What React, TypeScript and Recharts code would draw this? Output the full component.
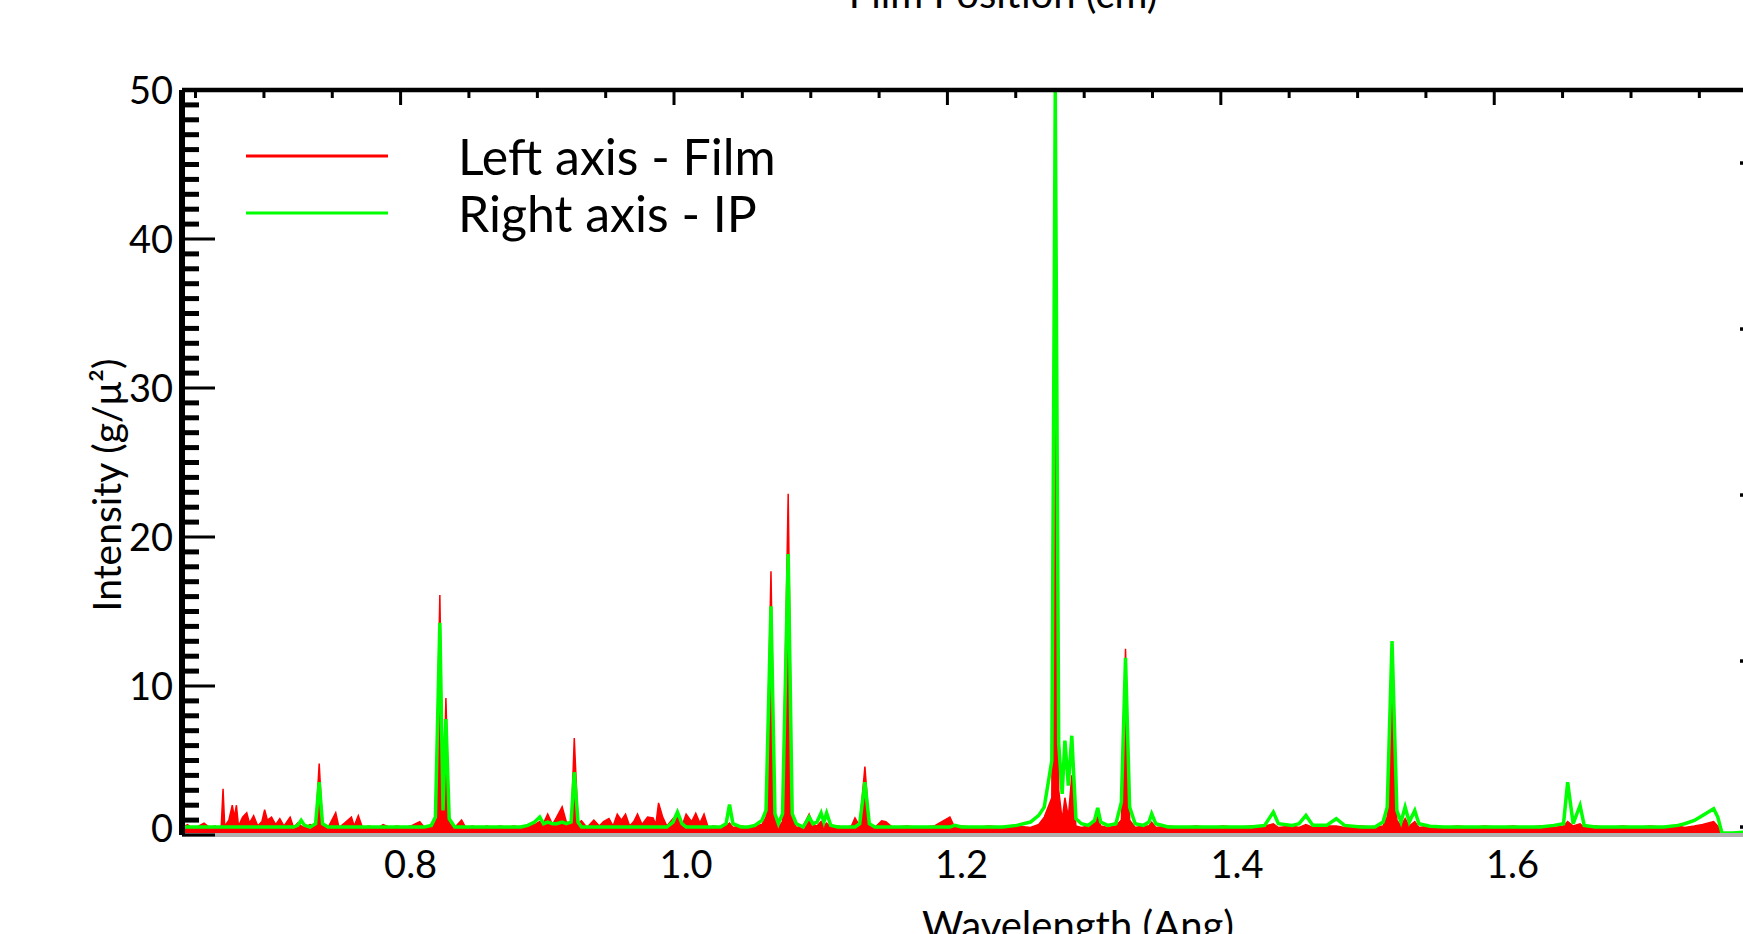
import React from 'react';
import { ComposedChart, Area, Line, XAxis, YAxis, Legend } from 'recharts';

// ---- data ----
const wavelength = [
  // 0.634 - 0.736
  0.634, 0.638, 0.642, 0.646, 0.650, 0.654, 0.658, 0.661, 0.6625, 0.6638,
  0.665, 0.668, 0.6705, 0.672, 0.6735, 0.675, 0.678, 0.681, 0.683, 0.686,
  0.689, 0.692, 0.694, 0.696, 0.699, 0.702, 0.705, 0.708, 0.7125, 0.715,
  0.718, 0.7205, 0.723, 0.727, 0.731, 0.7336, 0.736,
  // 0.740 - 0.840
  0.740, 0.7456, 0.748, 0.752, 0.757, 0.759, 0.762, 0.765, 0.770, 0.775,
  0.780, 0.785, 0.790, 0.795, 0.800, 0.8066, 0.810, 0.815, 0.818, 0.8212,
  0.8235, 0.8256, 0.828, 0.832, 0.837, 0.840,
  // 0.845 - 0.928
  0.845, 0.850, 0.855, 0.860, 0.865, 0.870, 0.875, 0.880, 0.885, 0.890,
  0.8937, 0.8965, 0.8995, 0.903, 0.906, 0.910, 0.913, 0.9165, 0.9188, 0.9215,
  0.924, 0.928,
  // 0.933 - 1.050
  0.933, 0.937, 0.940, 0.944, 0.947, 0.950, 0.953, 0.956, 0.959, 0.962,
  0.9647, 0.968, 0.972, 0.976, 0.978, 0.980, 0.983, 0.986, 0.9905, 0.9937,
  0.997, 1.000, 1.004, 1.007, 1.010, 1.013, 1.016, 1.020, 1.025, 1.029,
  1.0315, 1.034, 1.040, 1.045, 1.050,
  // 1.055 - 1.150
  1.055, 1.058, 1.0616, 1.0645, 1.067, 1.070, 1.0741, 1.077, 1.080, 1.085,
  1.0893, 1.092, 1.095, 1.098, 1.100, 1.102, 1.105, 1.110, 1.115, 1.120,
  1.1226, 1.126, 1.1298, 1.133, 1.137, 1.142, 1.145, 1.150,
  // 1.160 - 1.306
  1.160, 1.170, 1.180, 1.1915, 1.195, 1.200, 1.210, 1.220, 1.230, 1.240,
  1.250, 1.256, 1.260, 1.2655, 1.268, 1.2705, 1.273, 1.275, 1.2775, 1.280,
  1.283, 1.287, 1.292, 1.2965, 1.2988, 1.301, 1.306,
  // 1.312 - 1.500
  1.312, 1.316, 1.319, 1.322, 1.326, 1.332, 1.336, 1.338, 1.341, 1.350,
  1.360, 1.370, 1.380, 1.390, 1.400, 1.410, 1.420, 1.4263, 1.430, 1.440,
  1.445, 1.450, 1.455, 1.465, 1.472, 1.478, 1.490, 1.500,
  // 1.506 - 1.784
  1.506, 1.509, 1.5125, 1.516, 1.519, 1.522, 1.525, 1.529, 1.532, 1.540,
  1.550, 1.560, 1.570, 1.580, 1.590, 1.600, 1.610, 1.620, 1.630, 1.637,
  1.640, 1.644, 1.649, 1.652, 1.660, 1.670, 1.680, 1.690, 1.700, 1.710,
  1.720, 1.725, 1.732, 1.738, 1.746, 1.749, 1.752, 1.760, 1.770, 1.784,
];

// Left axis - Film, intensity (g/μ²)
const film = [
  0.5, 0.7, 0.4, 0.6, 0.8, 0.5, 0.6, 0.4, 0.6, 3.1,
  0.6, 1.0, 2.0, 1.2, 2.0, 0.6, 1.2, 1.5, 0.8, 1.3,
  0.6, 0.9, 1.7, 1.0, 1.2, 0.7, 1.1, 0.6, 1.2, 0.5,
  0.8, 0.6, 0.5, 0.7, 0.6, 4.8, 0.6,

  0.5, 1.5, 0.5, 0.8, 1.2, 0.6, 1.3, 0.5, 0.6, 0.4,
  0.7, 0.5, 0.6, 0.5, 0.6, 0.9, 0.5, 0.6, 0.9, 16.1,
  1.5, 9.2, 0.8, 0.5, 1.0, 0.5,

  0.6, 0.4, 0.6, 0.5, 0.6, 0.5, 0.6, 0.5, 0.6, 0.7,
  0.9, 0.8, 1.4, 0.7, 1.2, 1.9, 0.9, 0.6, 6.5, 0.8,
  0.95, 0.5,

  1.0, 0.6, 0.9, 1.1, 0.6, 1.4, 1.0, 1.4, 0.6, 0.9,
  1.4, 0.7, 1.2, 1.15, 0.7, 2.15, 1.2, 0.6, 1.1, 1.3,
  0.6, 1.4, 0.9, 1.45, 0.8, 1.4, 0.5, 0.6, 0.5, 0.6,
  0.8, 0.5, 0.6, 0.5, 0.6,

  0.7, 1.2, 17.7, 1.0, 0.5, 0.9, 22.9, 1.2, 0.5, 0.6,
  1.4, 0.7, 0.6, 0.9, 0.6, 0.8, 0.5, 0.6, 0.5, 0.6,
  1.15, 0.6, 4.6, 0.6, 0.5, 0.95, 0.9, 0.5,

  0.6, 0.5, 0.6, 1.2, 0.5, 0.6, 0.5, 0.6, 0.5, 0.6,
  0.5, 0.7, 1.2, 2.5, 42, 3.0, 1.0, 2.5, 1.2, 4.0,
  0.6, 0.5, 0.6, 0.8, 1.2, 0.6, 0.5,

  0.6, 1.0, 12.5, 1.0, 0.5, 0.6, 0.6, 0.85, 0.5, 0.6,
  0.5, 0.6, 0.5, 0.6, 0.5, 0.6, 0.6, 0.75, 0.5, 0.6,
  0.5, 0.7, 0.5, 0.6, 0.6, 0.5, 0.6, 0.5,

  0.6, 1.2, 12.9, 1.0, 0.6, 1.1, 0.6, 0.9, 0.5, 0.6,
  0.5, 0.6, 0.5, 0.6, 0.5, 0.6, 0.5, 0.6, 0.5, 0.6,
  0.9, 0.6, 0.75, 0.5, 0.6, 0.5, 0.6, 0.5, 0.6, 0.5,
  0.6, 0.5, 0.6, 0.7, 0.9, 0.6, 0, 0, 0, 0,
];

// Right axis - IP
const ip = [
  0, 0, 0, 0, 0, 0, 0, 0, 0, 0,
  0, 0, 0, 0, 0, 0, 0, 0, 0, 0,
  0, 0, 0, 0, 0, 0, 0, 0, 0, 0,
  0.01, 0.04, 0.01, 0, 0.02, 0.27, 0.02,

  0, 0, 0, 0, 0, 0, 0, 0, 0, 0,
  0, 0, 0, 0, 0, 0, 0, 0.01, 0.06, 1.23,
  0.1, 0.65, 0.05, 0, 0, 0,

  0, 0, 0, 0, 0, 0, 0, 0, 0.01, 0.03,
  0.06, 0.02, 0.03, 0.02, 0.02, 0.03, 0.02, 0.03, 0.33, 0.03,
  0, 0,

  0, 0, 0, 0, 0, 0, 0, 0, 0, 0,
  0, 0, 0, 0, 0, 0, 0, 0, 0.03, 0.09,
  0.02, 0, 0, 0, 0, 0, 0, 0, 0, 0.02,
  0.135, 0.02, 0, 0, 0.01,

  0.04, 0.1, 1.33, 0.08, 0.02, 0.08, 1.645, 0.08, 0.02, 0,
  0.06, 0.02, 0.03, 0.085, 0.03, 0.085, 0.01, 0, 0, 0,
  0, 0.02, 0.27, 0.02, 0, 0, 0, 0,

  0, 0, 0, 0, 0.01, 0, 0, 0, 0, 0.01,
  0.03, 0.07, 0.12, 0.4, 4.44, 0.5, 0.2, 0.52, 0.25, 0.55,
  0.05, 0.02, 0.01, 0.04, 0.115, 0.03, 0.01,

  0.02, 0.15, 1.02, 0.12, 0.02, 0.01, 0.03, 0.08, 0.02, 0,
  0, 0, 0, 0, 0, 0, 0.01, 0.09, 0.02, 0.01,
  0.02, 0.07, 0.01, 0.01, 0.05, 0.01, 0, 0,

  0.03, 0.12, 1.12, 0.1, 0.03, 0.12, 0.03, 0.1, 0.02, 0.005,
  0, 0, 0, 0, 0, 0, 0, 0, 0.01, 0.02,
  0.27, 0.02, 0.13, 0.01, 0, 0, 0, 0, 0, 0,
  0.01, 0.02, 0.04, 0.07, 0.11, 0.06, -0.036, -0.036, -0.03, -0.03,
];

const intensityTicks = [
  0, 1, 2, 3, 4, 5, 6, 7, 8, 9, 10, 11, 12, 13, 14, 15, 16, 17, 18, 19, 20,
  21, 22, 23, 24, 25, 26, 27, 28, 29, 30, 31, 32, 33, 34, 35, 36, 37, 38, 39, 40,
  41, 42, 43, 44, 45, 46, 47, 48, 49, 50,
];
const ipTicks = [0, 1, 2, 3, 4];
const wavelengthTicks = [0.8, 1.0, 1.2, 1.4, 1.6];
// film-position tick marks on the top edge, located (in Å) where they sit in the picture
const filmTickPositions = [
  0.6438, 0.6935, 0.7431, 0.7927, 0.8423, 0.8920, 0.9416, 0.9912,
  1.0408, 1.0905, 1.1401, 1.1897, 1.2393, 1.2890, 1.3386, 1.3882,
  1.4378, 1.4875, 1.5371, 1.5867, 1.6363, 1.6860, 1.7356,
];
const filmMajorTicks = [0.7927, 0.9912, 1.1897, 1.3882, 1.5867];
const wavelengthDomain = [0.634, 1.784];
const intensityDomain = [0, 50];
const ipDomain = [-0.048, 4.44];

const filmName = 'Left axis - Film';
const ipName = 'Right axis - IP';
const xTitle = 'Wavelength (Ang)';
const topTitle = 'Film Position (cm)';
const yTitle = 'Intensity (g/\u03bc\u00b2)';

const RED = '#ff0000';
const GREEN = '#00ff00';
const FONT = 'Lato, "Open Sans", sans-serif';

const data = wavelength.map((w, i) => ({ wavelength: w, film: film[i], ip: ip[i] }));

const LeftTick = (props: any) => {
  const { x, y, payload } = props;
  const v = payload.value;
  const major = v % 10 === 0;
  return (
    <g>
      <line x1={x} x2={x + (major ? 33 : 17)} y1={y} y2={y} stroke="#000" strokeWidth={major ? 3 : 5} />
      {major && (
        <text x={x - 9} y={y + (v === 0 ? -7 : 0)} dy="0.36em" textAnchor="end" fontSize={38} fontFamily={FONT} fill="#000">
          {String(v)}
        </text>
      )}
    </g>
  );
};

const RightTick = (props: any) => {
  const { x, y } = props;
  return <line x1={x - 26} x2={x} y1={y} y2={y} stroke="#000" strokeWidth={3.5} />;
};

const BottomTick = (props: any) => {
  const { x, y, payload } = props;
  return (
    <text x={x} y={y + 43} textAnchor="middle" fontSize={38} fontFamily={FONT} fill="#000">
      {Number(payload.value).toFixed(1)}
    </text>
  );
};

const TopTick = (props: any) => {
  const { x, y, payload } = props;
  const major = filmMajorTicks.includes(payload.value);
  return <line x1={x} x2={x} y1={y} y2={y + (major ? 15 : 8)} stroke="#000" strokeWidth={3} />;
};

const renderXTitle = () => (
  <text x={1078} y={940} textAnchor="middle" fontSize={40} fontFamily={FONT} fill="#000">
    {xTitle}
  </text>
);

const renderTopTitle = () => (
  <text x={1003} y={8} textAnchor="middle" fontSize={40} fontFamily={FONT} fill="#000">
    {topTitle}
  </text>
);

const renderYTitle = () => (
  <text x={121} y={485} textAnchor="middle" fontSize={39} fontFamily={FONT} fill="#000" transform="rotate(-90 121 485)">
    {yTitle}
  </text>
);

const renderLegend = () => {
  const rows = [
    { name: filmName, color: RED, y: 156 },
    { name: ipName, color: GREEN, y: 213 },
  ];
  return (
    <svg width={800} height={260} style={{ display: 'block' }}>
      {rows.map((r) => (
        <g key={r.name}>
          <line x1={246} x2={388} y1={r.y} y2={r.y} stroke={r.color} strokeWidth={3} />
          <text x={458} y={r.y + 19} fontSize={50} fontFamily={FONT} fill="#000">
            {r.name}
          </text>
        </g>
      ))}
    </svg>
  );
};

export default function App() {
  return (
    <div
      style={{
        position: 'fixed',
        left: 0,
        top: 0,
        width: 1743,
        height: 934,
        overflow: 'hidden',
        background: '#fff',
      }}
    >
      <ComposedChart
        width={1800}
        height={960}
        data={data}
        margin={{ top: 80, right: 24, bottom: 75, left: 122 }}
        style={{ fontFamily: FONT }}
      >
        <XAxis
          xAxisId="wl"
          dataKey="wavelength"
          type="number"
          orientation="bottom"
          domain={wavelengthDomain}
          allowDataOverflow
          ticks={wavelengthTicks}
          interval={0}
          height={50}
          tickSize={0}
          tickMargin={0}
          tickLine={false}
          axisLine={{ stroke: '#b0b0b0', strokeWidth: 4 }}
          tick={<BottomTick />}
          label={renderXTitle}
        />
        <XAxis
          xAxisId="film"
          dataKey="wavelength"
          type="number"
          orientation="top"
          domain={wavelengthDomain}
          allowDataOverflow
          ticks={filmTickPositions}
          interval={0}
          height={10}
          tickSize={0}
          tickMargin={0}
          tickLine={false}
          axisLine={{ stroke: '#000', strokeWidth: 4.5 }}
          tick={<TopTick />}
          label={renderTopTitle}
        />
        <YAxis
          yAxisId="left"
          type="number"
          orientation="left"
          domain={intensityDomain}
          allowDataOverflow
          ticks={intensityTicks}
          interval={0}
          width={60}
          tickSize={0}
          tickMargin={0}
          tickLine={false}
          axisLine={{ stroke: '#000', strokeWidth: 6 }}
          tick={<LeftTick />}
          label={renderYTitle}
        />
        <YAxis
          yAxisId="right"
          type="number"
          orientation="right"
          domain={ipDomain}
          allowDataOverflow
          ticks={ipTicks}
          interval={0}
          width={10}
          tickSize={0}
          tickMargin={0}
          tickLine={false}
          axisLine={{ stroke: '#000', strokeWidth: 6 }}
          tick={<RightTick />}
        />
        <Legend
          layout="horizontal"
          verticalAlign="middle"
          align="center"
          content={renderLegend}
          wrapperStyle={{ position: 'absolute', left: 0, top: 0, width: 800, height: 260 }}
        />
        <Area
          xAxisId="wl"
          yAxisId="left"
          name={filmName}
          dataKey="film"
          type="linear"
          stroke={RED}
          strokeWidth={1.5}
          fill={RED}
          fillOpacity={1}
          dot={false}
          activeDot={false}
          isAnimationActive={false}
        />
        <Line
          xAxisId="film"
          yAxisId="right"
          name={ipName}
          dataKey="ip"
          type="linear"
          stroke={GREEN}
          strokeWidth={3.5}
          dot={false}
          activeDot={false}
          isAnimationActive={false}
        />
      </ComposedChart>
    </div>
  );
}
